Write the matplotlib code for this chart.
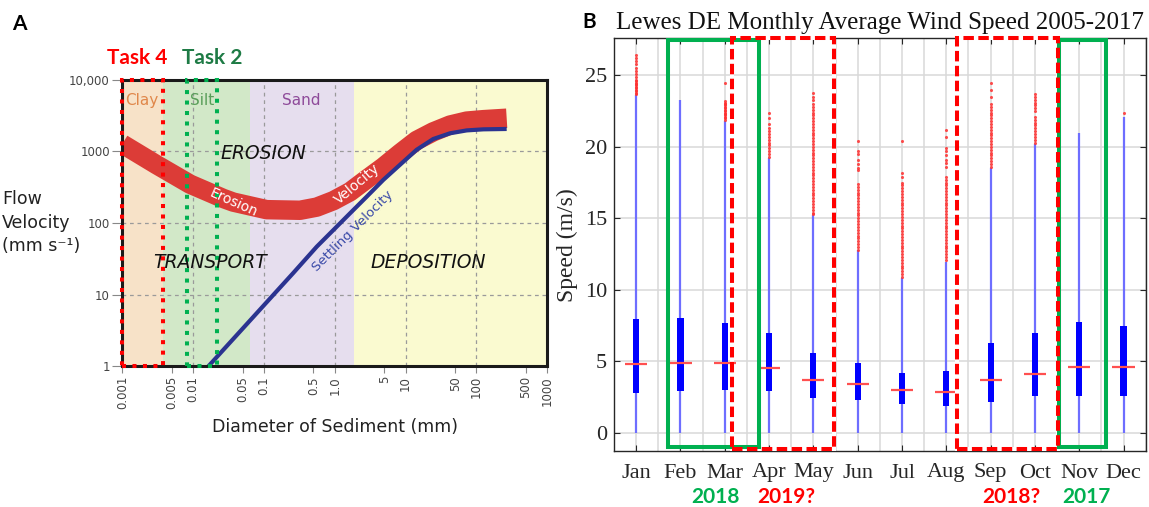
import matplotlib
matplotlib.use("Agg")
import matplotlib.pyplot as plt
from matplotlib.patches import Rectangle
from matplotlib.ticker import NullLocator, FixedLocator
import numpy as np

# ---------------- Panel A data (Hjulstrom diagram) ----------------
class_names = ["Clay", "Silt", "Sand", "Gravel"]
class_bounds = [0.001, 0.0037, 0.0625, 1.85, 1000]
class_colors = ["#F7E2C8", "#D2E8C8", "#E6DEEE", "#FAFAD0"]

erosion_d = [0.001, 0.00306, 0.00904, 0.0267, 0.0369, 0.109, 0.323, 0.556, 0.953,
             1.64, 2.82, 4.84, 8.32, 14.3, 24.5, 42.4, 72.8, 125, 267]
erosion_v = [1259, 646, 347, 219, 195, 153, 150, 166, 204,
             272, 407, 603, 933, 1413, 1862, 2317, 2630, 2754, 2884]

settling_d = [0.0164, 0.0789, 0.259, 0.556, 0.953, 1.64, 2.82, 4.84, 8.32,
              14.3, 24.5, 42.4, 72.8, 125, 267]
settling_v = [1, 5.5, 20, 46.6, 79.4, 136, 232, 398, 646,
              1047, 1479, 1778, 1950, 2018, 2042]

a_xticks = [0.001, 0.005, 0.01, 0.05, 0.1, 0.5, 1.0, 5, 10, 50, 100, 500, 1000]
a_xticklabels = ["0.001", "0.005", "0.01", "0.05", "0.1", "0.5", "1.0",
                 "5", "10", "50", "100", "500", "1000"]
a_yticks = [1, 10, 100, 1000, 10000]
a_yticklabels = ["1", "10", "100", "1000", "10,000"]
a_xgrid = [0.01, 0.1, 1, 10, 100]
a_ygrid = [10, 100, 1000]

task4_range = [0.001, 0.0037]
task2_range = [0.0082, 0.0215]

# ---------------- Panel B data (monthly wind speed boxplots) ----------------
months = ["Jan", "Feb", "Mar", "Apr", "May", "Jun",
          "Jul", "Aug", "Sep", "Oct", "Nov", "Dec"]
q1 = [2.80, 2.89, 2.99, 2.89, 2.40, 2.29, 1.98, 1.89, 2.17, 2.59, 2.59, 2.59]
q3 = [7.95, 8.04, 7.69, 6.95, 5.55, 4.85, 4.15, 4.34, 6.25, 6.95, 7.76, 7.46]
median = [4.78, 4.90, 4.90, 4.50, 3.69, 3.38, 2.99, 2.87, 3.69, 4.08, 4.57, 4.57]
whisker_low = [0, 0, 0, 0, 0, 0, 0, 0, 0, 0, 0, 0]
whisker_high = [23.6, 23.26, 21.8, 19.23, 15.2, 12.76, 10.8, 11.96, 18.49, 20.2, 20.94, 22.1]

out_jan = [26.4, 26.2, 26.0, 25.8, 25.5, 25.3, 25.1, 24.9, 24.7, 24.6, 24.5, 24.4,
           24.3, 24.2, 24.1, 24.0, 23.9, 23.8, 23.7]
out_feb = []
out_mar = [24.5, 23.2, 23.1, 23.0, 22.9, 22.8, 22.7, 22.6, 22.5, 22.4, 22.3, 22.2,
           22.1, 22.0, 21.9]
out_apr = [22.4, 22.0, 21.6, 21.3, 21.1, 20.9, 20.7, 20.5, 20.3, 20.1, 19.9, 19.7,
           19.5, 19.3]
out_may = [23.8, 23.5, 23.3, 23.0, 22.8, 22.6, 22.4, 22.2, 22.0, 21.8, 21.6, 21.4,
           21.2, 21.0, 20.8, 20.6, 20.4, 20.2, 20.0, 19.8, 19.6, 19.4, 19.2, 19.0,
           18.8, 18.6, 18.4, 18.2, 18.0, 17.8, 17.6, 17.4, 17.2, 17.0, 16.8, 16.6,
           16.4, 16.2, 16.0, 15.8, 15.6, 15.4, 15.3]
out_jun = [20.4, 19.7, 19.5, 19.1, 18.8, 18.5, 18.4, 17.4, 17.2, 17.0, 16.8, 16.6,
           16.4, 16.2, 16.0, 15.8, 15.6, 15.4, 15.2, 15.0, 14.8, 14.6, 14.4, 14.2,
           14.0, 13.8, 13.6, 13.4, 13.2, 13.0, 12.8]
out_jul = [20.4, 18.2, 17.9, 17.5, 17.3, 17.1, 16.9, 16.7, 16.5, 16.3, 16.1, 15.9,
           15.7, 15.5, 15.3, 15.1, 14.9, 14.7, 14.5, 14.3, 14.1, 13.9, 13.7, 13.5,
           13.3, 13.1, 12.9, 12.7, 12.5, 12.3, 12.1, 11.9, 11.7, 11.5, 11.3, 11.1,
           10.9]
out_aug = [21.2, 20.7, 19.9, 19.7, 19.4, 19.1, 18.9, 18.6, 17.9, 17.7, 17.5, 17.3,
           17.1, 16.9, 16.7, 16.5, 16.3, 16.1, 15.9, 15.7, 15.5, 15.3, 15.1, 14.9,
           14.7, 14.5, 14.3, 14.1, 13.9, 13.7, 13.5, 13.3, 13.1, 12.9, 12.7, 12.5,
           12.3, 12.1]
out_sep = [24.5, 24.0, 23.5, 23.0, 22.8, 22.6, 22.4, 22.2, 22.0, 21.8, 21.6, 21.4,
           21.2, 21.0, 20.8, 20.6, 20.4, 20.2, 20.0, 19.8, 19.6, 19.4, 19.2, 19.0,
           18.8, 18.6]
out_oct = [23.7, 23.5, 23.3, 23.1, 22.9, 22.7, 22.5, 22.1, 21.9, 21.7, 21.5, 21.3,
           21.1, 20.9, 20.7, 20.5, 20.3]
out_nov = []
out_dec = [22.4]
outliers = [out_jan, out_feb, out_mar, out_apr, out_may, out_jun,
            out_jul, out_aug, out_sep, out_oct, out_nov, out_dec]

b_yticks = [0, 5, 10, 15, 20, 25]

# ---------------- Figure ----------------
W, H = 1149, 507
fig = plt.figure(figsize=(W / 100, H / 100), dpi=100)


def px(x, y):
    return (x / W, 1 - y / H)


SERIF = "Liberation Serif"

# ================= Panel A =================
axA = fig.add_axes([122.3 / W, 1 - 366.3 / H, (547.3 - 122.3) / W, (366.3 - 79.5) / H])
axA.set_xscale("log")
axA.set_yscale("log")
axA.set_xlim(1e-3, 1e3)
axA.set_ylim(1, 1e4)

for lo, hi, c in zip(class_bounds[:-1], class_bounds[1:], class_colors):
    axA.axvspan(lo, hi, color=c, lw=0, zorder=0)

for xv in a_xgrid:
    axA.axvline(xv, color="#9a9a9a", lw=0.9, ls=(0, (3, 3)), zorder=1)
for yv in a_ygrid:
    axA.axhline(yv, color="#9a9a9a", lw=0.9, ls=(0, (3, 3)), zorder=1)

axA.plot(erosion_d, erosion_v, color="#DC3C37", lw=14,
         solid_capstyle="butt", solid_joinstyle="round", zorder=3)
axA.plot(settling_d, settling_v, color="#2B3390", lw=3.0,
         solid_capstyle="butt", solid_joinstyle="round", zorder=4)

axA.xaxis.set_major_locator(FixedLocator(a_xticks))
axA.xaxis.set_minor_locator(NullLocator())
axA.yaxis.set_major_locator(FixedLocator(a_yticks))
axA.yaxis.set_minor_locator(NullLocator())
axA.set_xticklabels(a_xticklabels, rotation=90, fontsize=8.5, color="#444444")
axA.set_yticklabels(a_yticklabels, fontsize=8.5, color="#444444")
axA.tick_params(axis="x", direction="out", length=5, width=0.8, color="#888888", pad=2)
axA.tick_params(axis="y", direction="out", length=7, width=0.8, color="#888888", pad=2)
for s in axA.spines.values():
    s.set_linewidth(2.2)
    s.set_color("#1a1a1a")
    s.set_zorder(5)

# task rectangles
axA.add_patch(Rectangle((task4_range[0], 1), task4_range[1] - task4_range[0], 1e4 - 1,
                        fill=False, ec="#FF0000", lw=2.9, ls=(0, (1, 1.6)),
                        clip_on=False, zorder=7))
axA.add_patch(Rectangle((task2_range[0], 1), task2_range[1] - task2_range[0], 1e4 - 1,
                        fill=False, ec="#00B050", lw=2.9, ls=(0, (1, 1.6)),
                        clip_on=False, zorder=7))

fig.text(*px(141.7, 100.7), "Clay", color="#E0874A", fontsize=11, ha="center", va="center")
fig.text(*px(201.7, 100.7), "Silt", color="#5A9E5A", fontsize=11, ha="center", va="center")
fig.text(*px(301, 100.7), "Sand", color="#8E4A9A", fontsize=11, ha="center", va="center")
fig.text(*px(263.3, 153.3), "EROSION", fontsize=13.5, style="italic", ha="center", va="center", color="#111111")
fig.text(*px(209.7, 262.7), "TRANSPORT", fontsize=13.5, style="italic", ha="center", va="center", color="#111111")
fig.text(*px(428.5, 262.7), "DEPOSITION", fontsize=13.5, style="italic", ha="center", va="center", color="#111111")
fig.text(*px(233.3, 202.5), "Erosion", fontsize=10, color="white", rotation=-24,
         ha="center", va="center", rotation_mode="anchor", zorder=10)
fig.text(*px(357, 184), "Velocity", fontsize=10, color="white", rotation=40,
         ha="center", va="center", rotation_mode="anchor", zorder=10)
fig.text(*px(352.5, 230.7), "Settling Velocity", fontsize=9.5, color="#3A4AA8", rotation=45,
         ha="center", va="center", rotation_mode="anchor", zorder=10)
fig.text(*px(334.7, 426.7), "Diameter of Sediment (mm)", fontsize=12.5, ha="center", va="center", color="#222222")
fig.text(*px(2, 199), "Flow", fontsize=12.5, ha="left", va="center", color="#222222")
fig.text(*px(2, 222.7), "Velocity", fontsize=12.5, ha="left", va="center", color="#222222")
fig.text(*px(2, 246), "(mm s\u207b\u00b9)", fontsize=12.5, ha="left", va="center", color="#222222")

fig.text(*px(19, 23.5), "A", fontsize=15, fontweight="bold", family="Lato", ha="center", va="center")
fig.text(*px(137, 57.5), "Task 4", fontsize=15, fontweight="bold", family="Lato", color="#FF0000", ha="center", va="center")
fig.text(*px(212.6, 57.5), "Task 2", fontsize=15, fontweight="bold", family="Lato", color="#1E7B45", ha="center", va="center")

# ================= Panel B =================
axB = fig.add_axes([614 / W, 1 - 451 / H, (1145.7 - 614) / W, (451 - 38.3) / H])
x = np.arange(1, len(months) + 1)
axB.set_xlim(0.53, 12.43)
axB.set_ylim(-1.28, 27.6)
axB.set_axisbelow(True)

axB.set_xticks(x)
axB.set_xticks(np.arange(0.5, 13, 1), minor=True)
axB.set_yticks(b_yticks)
axB.set_xticklabels(months)
axB.grid(True, which="both", axis="x", color="#d9d9d9", lw=1.1)
axB.grid(True, which="major", axis="y", color="#d9d9d9", lw=1.1)
axB.tick_params(which="major", direction="in", top=True, right=True, length=4, width=0.8,
                color="#262626", labelsize=16, labelcolor="#262626")
axB.tick_params(axis="x", which="major", pad=9)
axB.tick_params(axis="y", which="major", pad=5)
axB.tick_params(which="minor", length=0, top=True, right=True)
for lab in axB.get_xticklabels() + axB.get_yticklabels():
    lab.set_fontfamily(SERIF)
for s in axB.spines.values():
    s.set_linewidth(1.0)
    s.set_color("#262626")

axB.vlines(x, whisker_low, whisker_high, color="#6E6EFF", lw=1.6, zorder=2)
axB.bar(x, np.array(q3) - np.array(q1), bottom=q1, width=0.14, color="#0000FF", lw=0, zorder=3)
axB.hlines(median, x - 0.25, x + 0.25, color="#FF5050", lw=1.6, zorder=4)
for xi, vals in zip(x, outliers):
    if vals:
        axB.scatter([xi] * len(vals), vals, s=5, color="#FF3030", alpha=0.85, lw=0, zorder=4)

axB.set_title("Lewes DE Monthly Average Wind Speed 2005-2017", fontsize=18,
              fontfamily=SERIF, pad=7, color="#111111")
axB.set_ylabel("Speed (m/s)", fontsize=17, fontfamily=SERIF, labelpad=5, color="#262626")

# annotation rectangles
for (x0, x1) in [(3.165, 5.456), (8.233, 10.53)]:
    axB.add_patch(Rectangle((x0, -1.16), x1 - x0, 27.6 + 1.16, fill=False, ec="white",
                            lw=2.9, clip_on=False, zorder=5.5))
for (x0, x1) in [(1.71, 3.78), (10.55, 11.60)]:
    axB.add_patch(Rectangle((x0, -0.98), x1 - x0, 27.5 + 0.98, fill=False, ec="#00B050",
                            lw=2.9, clip_on=False, zorder=6))
for (x0, x1) in [(3.165, 5.456), (8.233, 10.53)]:
    axB.add_patch(Rectangle((x0, -1.16), x1 - x0, 27.6 + 1.16, fill=False, ec="#FF0000",
                            lw=2.9, ls=(0, (2.6, 1.1)), clip_on=False, zorder=7))

fig.text(*px(589, 22), "B", fontsize=15, fontweight="bold", family="Lato", ha="center", va="center")
fig.text(*px(716, 496.7), "2018", fontsize=15, fontweight="bold", family="Lato", color="#00B050", ha="center", va="center")
fig.text(*px(786, 496.7), "2019?", fontsize=15, fontweight="bold", family="Lato", color="#FF0000", ha="center", va="center")
fig.text(*px(1011, 496.7), "2018?", fontsize=15, fontweight="bold", family="Lato", color="#FF0000", ha="center", va="center")
fig.text(*px(1086, 496.7), "2017", fontsize=15, fontweight="bold", family="Lato", color="#00B050", ha="center", va="center")

fig.savefig("out.png", dpi=100)
